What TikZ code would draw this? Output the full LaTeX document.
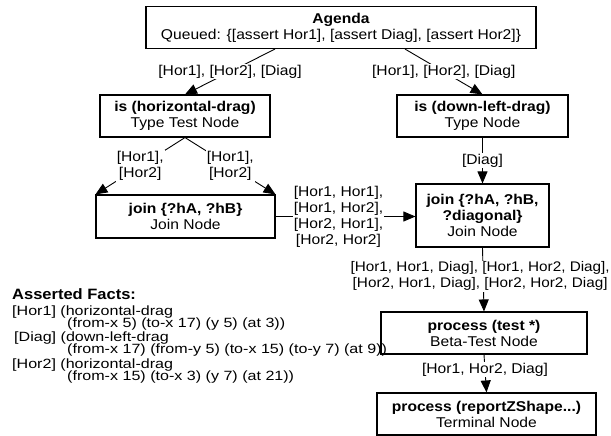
\documentclass[tikz,border=0pt]{standalone}
\usepackage{fontspec}
\setmainfont{Liberation Sans}[FakeStretch=1.1]
\newfontfamily\factfamily{Liberation Sans}[FakeStretch=1.2]
\usetikzlibrary{arrows.meta}
\newcommand{\rname}[1]{\textbf{#1}}
\newcommand{\factind}{\hspace*{55pt}}
\newcommand{\factfont}{\factfamily\fontsize{13.4}{12}\selectfont\setlength{\lineskiplimit}{-50pt}}

\begin{document}
\begin{tikzpicture}[x=1pt,y=-1pt,
    font=\fontsize{14.2}{16}\selectfont,
    rnode/.style={draw,line width=1.1pt,align=center,inner sep=0pt,minimum height=42pt},
    flow/.style={line width=0.9pt,-{Triangle[length=12pt,width=10pt]}},
    lbl/.style={fill=white,align=center,inner sep=1pt}]
    \useasboundingbox (0,0) rectangle (611,436);
    % Rete nodes
    \node[rnode,minimum width=390pt] (agenda) at (341,27.5)
      {\rname{Agenda}\\Queued: \{[assert Hor1], [assert Diag], [assert Hor2]\}};
    \node[rnode,minimum width=170pt] (ish) at (185,116)
      {\rname{is (horizontal-drag)}\\Type Test Node};
    \node[rnode,minimum width=171pt] (isdl) at (482.5,116)
      {\rname{is (down-left-drag)}\\Type Node};
    \node[rnode,minimum width=179pt,minimum height=43pt] (joinab) at (185.5,216.5)
      {\rname{join \{?hA, ?hB\}}\\Join Node};
    \node[rnode,minimum width=133pt,minimum height=63pt] (joinabd) at (482.5,215.5)
      {\rname{join \{?hA, ?hB,}\\\rname{?diagonal\}}\\Join Node};
    \node[rnode,minimum width=206pt] (test) at (484,333)
      {\rname{process (test *)}\\Beta-Test Node};
    \node[rnode,minimum width=219pt] (report) at (486.5,414)
      {\rname{process (reportZShape...)}\\Terminal Node};
    % Tokens
    \draw[flow] ([xshift=-66pt]agenda.south) -- node[lbl] {[Hor1], [Hor2], [Diag]} (ish.north);
    \draw[flow] ([xshift=64pt]agenda.south) -- node[lbl] {[Hor1], [Hor2], [Diag]} (isdl.north);
    \draw[flow] (ish.south) -- node[lbl] {[Hor1],\\{}[Hor2]} (joinab.north west);
    \draw[flow] (ish.south) -- node[lbl] {[Hor1],\\{}[Hor2]} (joinab.north east);
    \draw[flow] (isdl.south) -- node[lbl] {[Diag]} (joinabd.north);
    \draw[flow] (joinab.east) -- node[lbl,pos=0.45]
      {[Hor1, Hor1],\\{}[Hor1, Hor2],\\{}[Hor2, Hor1],\\{}[Hor2, Hor2]} (joinab.east -| joinabd.west);
    \draw[flow] (joinabd.south) -- node[lbl,pos=0.45,xshift=-3pt,font=\fontsize{13.9}{16}\selectfont]
      {[Hor1, Hor1, Diag], [Hor1, Hor2, Diag],\\{}[Hor2, Hor1, Diag], [Hor2, Hor2, Diag]} (test.north);
    \draw[flow] (test.south) -- node[lbl,pos=0.4] {[Hor1, Hor2, Diag]} (report.north);
    % Facts
    \node[anchor=north west,align=left,inner sep=0pt,font=\factfont] (facts) at (12,288)
      {{\rmfamily\fontsize{15}{12}\selectfont\bfseries Asserted Facts:}\\[4pt]
       {[Hor1]} (horizontal-drag\\
       \factind(from-x 5) (to-x 17) (y 5) (at 3))\\[2.5pt]
       \hspace*{2pt}{[Diag]} (down-left-drag\\
       \factind(from-x 17) (from-y 5) (to-x 15) (to-y 7) (at 9))\\[3pt]
       {[Hor2]} (horizontal-drag\\
       \factind(from-x 15) (to-x 3) (y 7) (at 21))};
\end{tikzpicture}
\end{document}
